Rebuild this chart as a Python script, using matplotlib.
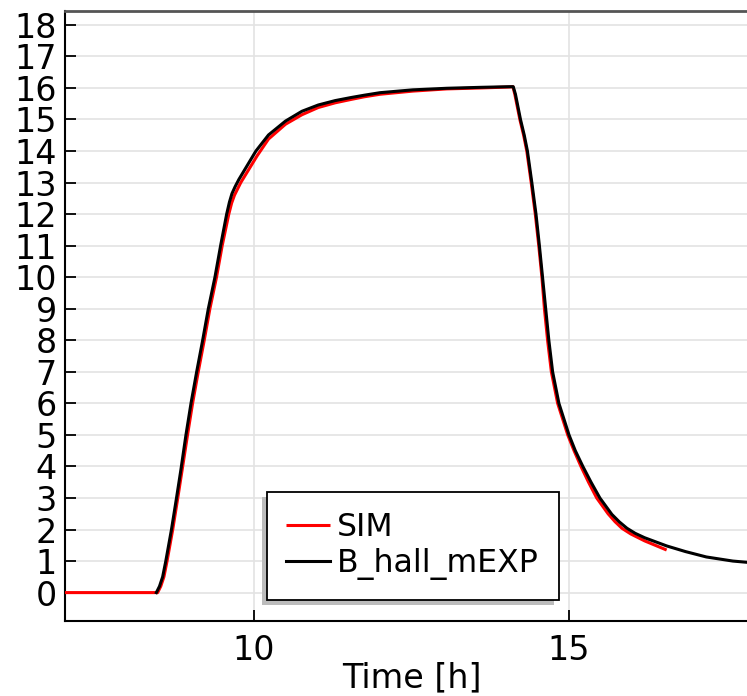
import matplotlib
matplotlib.use("Agg")
import matplotlib.pyplot as plt
from matplotlib.patches import Rectangle

# -------------------------------
# Data
# -------------------------------

exp_time = [8.45, 8.50, 8.55, 8.60, 8.69, 8.77, 8.84, 8.92, 9.00, 9.09,
            9.185, 9.275, 9.38, 9.47, 9.566, 9.61, 9.65, 9.70, 9.76, 9.88,
            10.03, 10.23, 10.50, 10.76, 11.02, 11.29, 11.55, 11.75, 12.0,
            12.52, 13.06, 13.6, 14.05, 14.115, 14.15, 14.19, 14.23, 14.29,
            14.34, 14.41, 14.476, 14.53, 14.58, 14.63, 14.68, 14.74, 14.84,
            15.0, 15.10, 15.22, 15.35, 15.49, 15.68, 15.80, 15.92, 16.05,
            16.2, 16.55, 16.85, 17.18, 17.6, 18.0]
exp_field = [0.0, 0.2, 0.5, 1.0, 2.0, 3.0, 3.9, 5.0, 6.0, 7.0,
             8.0, 9.0, 10.0, 11.0, 12.0, 12.38, 12.65, 12.87, 13.1, 13.5,
             14.0, 14.51, 14.95, 15.26, 15.46, 15.6, 15.7, 15.77, 15.85,
             15.94, 15.99, 16.02, 16.04, 16.04, 15.8, 15.4, 15.0, 14.5,
             14.0, 13.0, 12.0, 11.0, 10.0, 9.0, 8.0, 7.0, 6.0,
             5.0, 4.5, 4.0, 3.5, 3.0, 2.48, 2.24, 2.04, 1.88,
             1.74, 1.48, 1.3, 1.13, 1.0, 0.93]

sim_time = [7.0, 8.47, 8.52, 8.57, 8.62, 8.71, 8.79, 8.86, 8.945, 9.025,
            9.115, 9.21, 9.30, 9.405, 9.495, 9.60, 9.645, 9.69, 9.74, 9.79,
            10.05, 10.23, 10.50, 10.76, 11.02, 11.29, 11.55, 11.75, 12.0,
            12.52, 13.06, 13.6, 14.05, 14.11, 14.14, 14.18, 14.22, 14.28,
            14.33, 14.40, 14.465, 14.52, 14.57, 14.61, 14.66, 14.72, 14.82,
            14.98, 15.08, 15.19, 15.31, 15.44, 15.62, 15.73, 15.84, 15.98,
            16.2, 16.55]
sim_field = [0.0, 0.0, 0.2, 0.5, 1.0, 2.0, 3.0, 3.9, 5.0, 6.0,
             7.0, 8.0, 9.0, 10.0, 11.0, 12.0, 12.35, 12.6, 12.8, 13.0,
             13.85, 14.38, 14.85, 15.15, 15.38, 15.53, 15.64, 15.72, 15.8,
             15.9, 15.97, 16.0, 16.03, 16.04, 15.8, 15.4, 15.0, 14.5,
             14.0, 13.0, 12.0, 11.0, 10.0, 9.0, 8.0, 7.0, 6.0,
             5.0, 4.5, 4.0, 3.5, 3.0, 2.5, 2.25, 2.04, 1.86,
             1.64, 1.35]

x_ticks = [10, 15]
y_ticks = list(range(0, 19))

# -------------------------------
# Figure
# -------------------------------

fig = plt.figure(figsize=(7.47, 6.96), dpi=100)
ax = fig.add_axes([65 / 747, 1 - 621.3 / 696, 693 / 747, 610.3 / 696])

ax.plot(sim_time, sim_field, color='#ff0000', linewidth=2.2, label='SIM',
        solid_capstyle='butt', zorder=3)
ax.plot(exp_time, exp_field, color='black', linewidth=2.2,
        label='B_hall_mEXP', zorder=4)

ax.set_xlim(7, 18)
ax.set_ylim(-0.91, 18.44)
ax.set_xticks(x_ticks)
ax.set_yticks(y_ticks)

ax.tick_params(direction='in', length=8, width=1.3, labelsize=24,
               colors='black')
ax.tick_params(axis='x', pad=9)
ax.tick_params(axis='y', pad=6)

ax.grid(True, color='#e3e3e3', linewidth=1.2)
ax.set_axisbelow(True)

ax.spines['right'].set_visible(False)
ax.spines['top'].set_color('#555555')
ax.spines['top'].set_linewidth(2)
ax.spines['left'].set_linewidth(1.5)
ax.spines['bottom'].set_linewidth(1.5)

ax.set_xlabel('Time [h]', fontsize=24, labelpad=-4)

# Legend with a manual offset shadow (down-left)
leg = ax.legend(loc='lower left', bbox_to_anchor=(0.291, 0.035),
                fontsize=22.7, fancybox=False, framealpha=1,
                edgecolor='black', borderaxespad=0, handlelength=1.4,
                handletextpad=0.22, labelspacing=0.17, borderpad=0.62)
leg.get_frame().set_linewidth(1.3)
leg.set_zorder(6)

fig.canvas.draw()
bb = leg.get_window_extent().transformed(ax.transAxes.inverted())
dx = 5 / 693
dy = 5 / 610.3
shadow = Rectangle((bb.x0 - dx, bb.y0 - dy), bb.width, bb.height,
                   transform=ax.transAxes, facecolor='#bcbcbc',
                   edgecolor='none', zorder=5.5, clip_on=False)
ax.add_patch(shadow)

plt.savefig("out.png", dpi=100)
